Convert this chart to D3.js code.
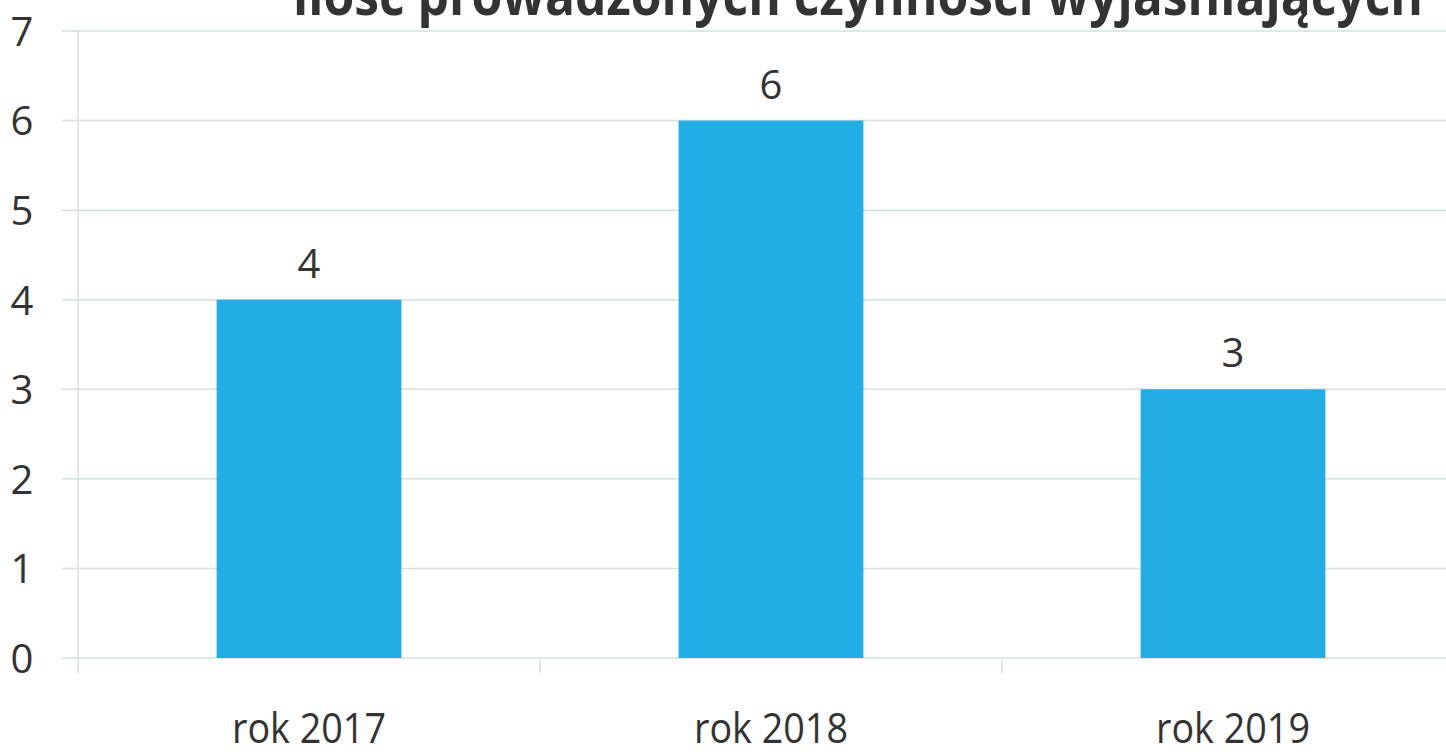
<!DOCTYPE html>
<html>
<head>
<meta charset="utf-8">
<script src="https://cdn.jsdelivr.net/npm/d3@7"></script>
<style>
  body { margin: 0; background: #fff; }
  svg { display: block; }
</style>
</head>
<body>
<script>
const title = "ilość prowadzonych czynności wyjaśniających";
const categories = ["rok 2017", "rok 2018", "rok 2019"];
const values = [4, 6, 3];
const yTicks = [0, 1, 2, 3, 4, 5, 6, 7];

const W = 1446, H = 755;
const margin = {top: 31, right: -18, bottom: 97, left: 78};
const width = W - margin.left - margin.right,
      height = H - margin.top - margin.bottom;

const svg = d3.select("body").append("svg")
  .attr("width", W).attr("height", H);

const g = svg.append("g")
  .attr("transform", "translate(" + margin.left + "," + margin.top + ")");

const x = d3.scaleBand().domain(categories).range([0, width]).paddingInner(0.6).paddingOuter(0.3);
const xCat = d3.scaleBand().domain(categories).range([0, width]);
const y = d3.scaleLinear().domain([0, 7]).range([height, 0]);

const textColor = "#333333";
const gridColor = "#d6e0dd";
const font = "'Open Sans', 'Noto Sans', sans-serif";

// gridlines
g.selectAll("line.grid")
  .data(yTicks)
  .enter().append("line")
  .attr("class", "grid")
  .attr("x1", -16).attr("x2", width)
  .attr("y1", d => y(d)).attr("y2", d => y(d))
  .attr("stroke", gridColor).attr("stroke-width", 1.5);

// y axis line
g.append("line")
  .attr("x1", 0).attr("x2", 0)
  .attr("y1", 0).attr("y2", height + 15)
  .attr("stroke", gridColor).attr("stroke-width", 1.5);

// category ticks
g.selectAll("line.ctick")
  .data(categories.slice(1))
  .enter().append("line")
  .attr("class", "ctick")
  .attr("x1", d => xCat(d)).attr("x2", d => xCat(d))
  .attr("y1", height).attr("y2", height + 15)
  .attr("stroke", gridColor).attr("stroke-width", 1.5);

// y tick labels
const yAxis = d3.axisLeft(y).tickValues(yTicks).tickFormat(d3.format("d")).tickSize(0).tickPadding(56);
const ya = g.append("g").call(yAxis);
ya.select(".domain").remove();
ya.selectAll("text")
  .attr("fill", textColor)
  .style("font-family", font)
  .style("font-size", "40px")
  .attr("text-anchor", "middle")
  .attr("dy", "0.36em");

// bars
g.selectAll("rect.bar")
  .data(values)
  .enter().append("rect")
  .attr("class", "bar")
  .attr("x", (d, i) => x(categories[i]))
  .attr("y", d => y(d))
  .attr("width", x.bandwidth())
  .attr("height", d => height - y(d))
  .attr("fill", "#22ade4");

// value labels
g.selectAll("text.val")
  .data(values)
  .enter().append("text")
  .attr("class", "val")
  .attr("x", (d, i) => x(categories[i]) + x.bandwidth() / 2)
  .attr("y", d => y(d) - 22)
  .attr("text-anchor", "middle")
  .attr("fill", textColor)
  .style("font-family", font)
  .style("font-size", "40px")
  .text(d => d);

// category labels
g.selectAll("text.cat")
  .data(categories)
  .enter().append("text")
  .attr("class", "cat")
  .attr("x", d => xCat(d) + xCat.bandwidth() / 2)
  .attr("y", height + 85)
  .attr("text-anchor", "middle")
  .attr("textLength", 154)
  .attr("lengthAdjust", "spacingAndGlyphs")
  .attr("fill", textColor)
  .style("font-family", font)
  .style("font-size", "42px")
  .text(d => d);

// title (cut off at top edge)
svg.append("text")
  .attr("x", 293)
  .attr("y", 15)
  .attr("textLength", 1130)
  .attr("lengthAdjust", "spacingAndGlyphs")
  .attr("fill", textColor)
  .style("font-family", font)
  .style("font-weight", "bold")
  .style("font-size", "56px")
  .text(title);
</script>
</body>
</html>
